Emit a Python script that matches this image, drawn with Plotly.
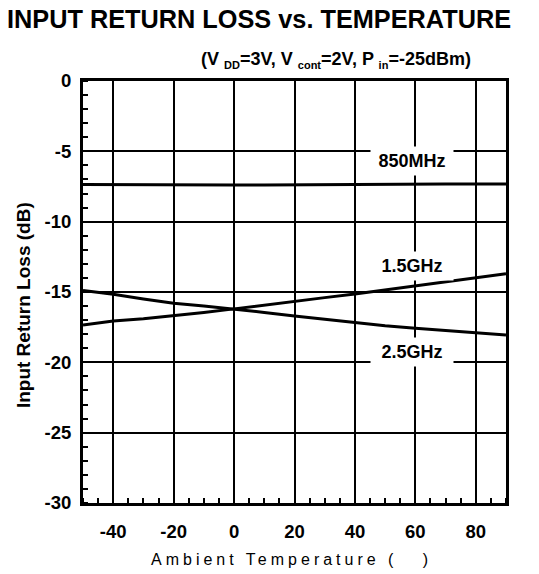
import plotly.graph_objects as go

temps = [-50, -40, -30, -20, -10, 0, 10, 20, 30, 40, 50, 60, 70, 80, 90]
rl_850mhz = [-7.35, -7.37, -7.38, -7.40, -7.40, -7.40, -7.40, -7.38, -7.37, -7.36, -7.35, -7.34, -7.33, -7.32, -7.32]
rl_1g5 = [-17.35, -17.06, -16.90, -16.70, -16.45, -16.20, -15.95, -15.70, -15.40, -15.14, -14.85, -14.55, -14.25, -13.95, -13.70]
rl_2g5 = [-14.90, -15.16, -15.50, -15.80, -16.00, -16.20, -16.45, -16.70, -16.95, -17.18, -17.40, -17.58, -17.75, -17.87, -18.05]

series_names = ["850MHz", "1.5GHz", "2.5GHz"]
label_x = [58.8, 58.8, 58.8]
label_y = [-5.69, -13.18, -19.3]

x_ticks = [-40, -20, 0, 20, 40, 60, 80]
y_ticks = [0, -5, -10, -15, -20, -25, -30]

FONT = "Liberation Sans, Arial, sans-serif"

fig = go.Figure()
for name, ys in zip(series_names, [rl_850mhz, rl_1g5, rl_2g5]):
    fig.add_trace(go.Scatter(x=temps, y=ys, mode="lines", name=name,
                             line=dict(color="black", width=3), showlegend=False))

annotations = []
for name, lx, ly in zip(series_names, label_x, label_y):
    annotations.append(dict(x=lx, y=ly, xref="x", yref="y", text="<b>" + name + "</b>",
                            xanchor="center", yanchor="middle",
                            showarrow=False, bgcolor="white", width=78, height=24, borderpad=2,
                            font=dict(family=FONT, size=18, color="black")))


def sub(s):
    return '<sub><span style="font-size:11px">' + s + '</span></sub>'


annotations += [
    dict(x=0.417, y=1.147, xref="paper", yref="paper", showarrow=False,
         xanchor="center", yanchor="middle",
         text="<b>INPUT RETURN LOSS vs. TEMPERATURE</b>",
         font=dict(family=FONT, size=25.3, color="black")),
    dict(x=0.597, y=1.05, xref="paper", yref="paper", showarrow=False,
         xanchor="center", yanchor="middle",
         text="<b>(V " + sub("DD") + "=3V, V " + sub("cont") + "=2V, P " + sub("in") + "=-25dBm)</b>",
         font=dict(family=FONT, size=18, color="black")),
    dict(x=-0.1418, y=0.469, xref="paper", yref="paper", showarrow=False, textangle=-90,
         xanchor="center", yanchor="middle",
         text="<b>Input Return Loss (dB)</b>",
         font=dict(family=FONT, size=19, color="black")),
    dict(x=0.494, y=-0.135, xref="paper", yref="paper", showarrow=False,
         xanchor="center", yanchor="middle",
         text='<span style="letter-spacing:4px">Ambient Temperature (   )</span>',
         font=dict(family=FONT, size=16, color="black")),
]

fig.update_layout(
    width=539, height=574,
    margin=dict(l=83, r=33, t=81, b=71),
    paper_bgcolor="white", plot_bgcolor="white",
    annotations=annotations,
    font=dict(family=FONT, color="black"),
)
fig.update_xaxes(range=[-50, 90], tickvals=x_ticks, ticktext=[f"<b>{v}</b>" for v in x_ticks],
                 showgrid=True, gridcolor="black", gridwidth=2,
                 showline=True, linecolor="black", linewidth=3, mirror=True,
                 ticks="", zeroline=False, ticklabelstandoff=10,
                 tickfont=dict(family=FONT, size=18.5, color="black"),
                 minor=dict(dtick=5, tick0=0, ticks="inside", ticklen=5, tickwidth=2,
                            tickcolor="black", showgrid=False))
fig.update_yaxes(range=[-30, 0], tickvals=y_ticks, ticktext=[f"<b>{v}</b>" for v in y_ticks],
                 showgrid=True, gridcolor="black", gridwidth=2,
                 showline=True, linecolor="black", linewidth=3, mirror=True,
                 ticks="", zeroline=False, ticklabelstandoff=5,
                 tickfont=dict(family=FONT, size=18.5, color="black"),
                 minor=dict(dtick=1, tick0=0, ticks="inside", ticklen=5, tickwidth=2,
                            tickcolor="black", showgrid=False))

fig.write_html("out.html")
